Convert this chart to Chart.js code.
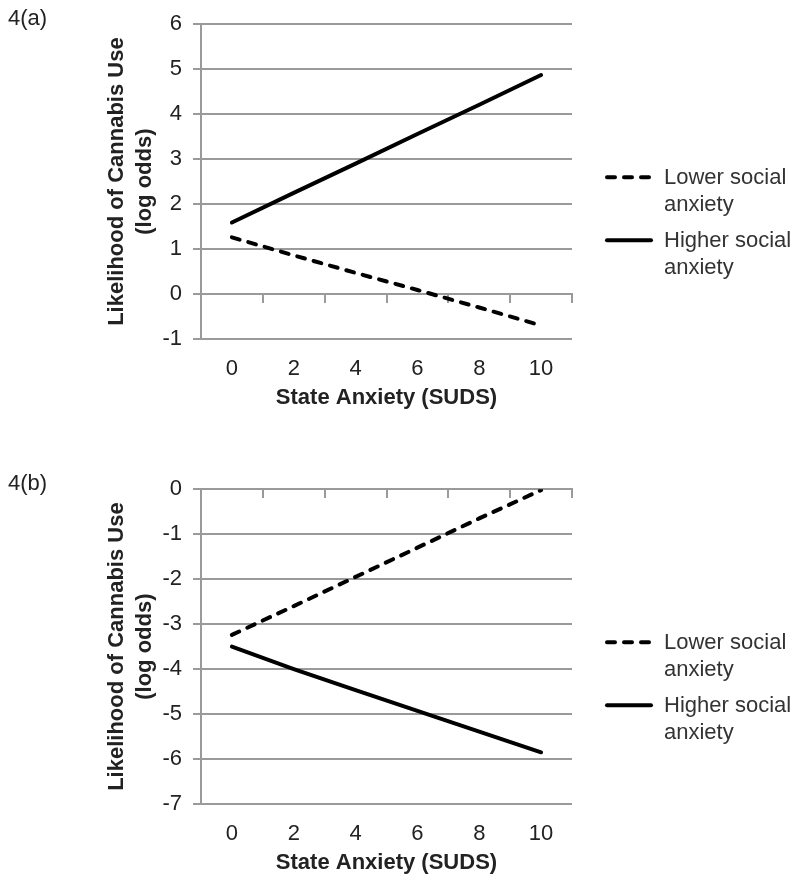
<!DOCTYPE html>
<html>
<head>
<meta charset="utf-8">
<script src="https://cdn.jsdelivr.net/npm/chart.js@4.4.1/dist/chart.umd.min.js"></script>
<style>
    body { margin: 0; background: #fff; }
    .panel { position: absolute; left: 0; width: 800px; height: 420px; }
    .tag { position: absolute; left: 8px; top: 5px; font: 22px 'Liberation Sans', Arial, sans-serif; color: #222; }
</style>
</head>
<body>
<div class="panel" style="top:0">
    <div class="tag">4(a)</div>
    <canvas id="chartA" width="800" height="420"></canvas>
</div>
<div class="panel" style="top:465px">
    <div class="tag">4(b)</div>
    <canvas id="chartB" width="800" height="420"></canvas>
</div>
<script>
// State anxiety (SUDS) categories
const suds = ['0', '2', '4', '6', '8', '10'];

// Panel 4(a) - log odds
const lowerA = [1.26, 0.86, 0.47, 0.09, -0.30, -0.70];
const higherA = [1.59, 2.25, 2.90, 3.56, 4.21, 4.87];

// Panel 4(b) - log odds
const lowerB = [-3.24, -2.60, -1.95, -1.30, -0.65, -0.02];
const higherB = [-3.50, -4.00, -4.47, -4.93, -5.39, -5.85];

const seriesNames = [['Lower social', 'anxiety'], ['Higher social', 'anxiety']];
const yTitle = ['Likelihood of Cannabis Use', '(log odds)'];
const xTitle = 'State Anxiety (SUDS)';

const FONT = "'Liberation Sans', Arial, sans-serif";
const GRID = '#9a9a9a';
const TEXT = '#222';

// legend drawn to the right of the plot, two-line labels
const sideLegend = {
    id: 'sideLegend',
    afterDraw(chart) {
        const ctx = chart.ctx;
        const top = chart.chartArea.top;
        ctx.save();
        chart.data.datasets.forEach((ds, i) => {
            const y = top + 153 + i * 63;
            ctx.beginPath();
            ctx.lineWidth = 4;
            ctx.lineCap = 'round';
            ctx.strokeStyle = '#000';
            ctx.setLineDash(ds.borderDash || []);
            ctx.moveTo(607, y);
            ctx.lineTo(651, y);
            ctx.stroke();
            ctx.setLineDash([]);
            ctx.fillStyle = '#333';
            ctx.font = '22px ' + FONT;
            ctx.textBaseline = 'middle';
            ctx.textAlign = 'left';
            ds.legendLines.forEach((t, k) => ctx.fillText(t, 664, y + 1 + k * 27));
        });
        ctx.restore();
    }
};

function makeChart(id, lower, higher, yMin, yMax) {
    const ctx = document.getElementById(id).getContext('2d');
    return new Chart(ctx, {
        type: 'line',
        data: {
            labels: suds,
            datasets: [{
                label: seriesNames[0].join(' '),
                legendLines: seriesNames[0],
                data: lower,
                borderColor: '#000',
                borderWidth: 4,
                borderDash: [8, 9],
                borderCapStyle: 'round',
                pointRadius: 0,
                tension: 0
            }, {
                label: seriesNames[1].join(' '),
                legendLines: seriesNames[1],
                data: higher,
                borderColor: '#000',
                borderWidth: 4,
                borderCapStyle: 'round',
                pointRadius: 0,
                tension: 0
            }]
        },
        options: {
            responsive: false,
            devicePixelRatio: 1,
            animation: false,
            layout: {
                padding: { top: 19, right: 228, left: 0, bottom: 0 }
            },
            plugins: {
                legend: { display: false },
                tooltip: { enabled: false }
            },
            scales: {
                x: {
                    type: 'category',
                    offset: true,
                    grid: { display: false, drawTicks: false },
                    border: { display: false },
                    ticks: {
                        color: TEXT,
                        font: { family: FONT, size: 22 },
                        padding: 17,
                        maxRotation: 0
                    },
                    title: {
                        display: true,
                        text: xTitle,
                        color: TEXT,
                        font: { family: FONT, size: 22, weight: 'bold' },
                        padding: { top: 0, bottom: 9 }
                    },
                    afterFit(scale) { scale.height = 81; }
                },
                // category axis crossing at zero, tick marks only
                x2: {
                    type: 'category',
                    position: { y: 0 },
                    offset: true,
                    grid: {
                        offset: true,
                        drawOnChartArea: false,
                        tickLength: 8,
                        color: GRID,
                        lineWidth: 2
                    },
                    border: { display: true, color: GRID, width: 2 },
                    ticks: { display: false }
                },
                y: {
                    min: yMin,
                    max: yMax,
                    ticks: {
                        stepSize: 1,
                        color: TEXT,
                        font: { family: FONT, size: 22 },
                        padding: 11
                    },
                    grid: {
                        color: GRID,
                        lineWidth: 2,
                        tickLength: 8
                    },
                    border: { display: true, color: GRID, width: 2 },
                    title: {
                        display: true,
                        text: yTitle,
                        color: TEXT,
                        font: { family: FONT, size: 22, weight: 'bold', lineHeight: 1.27 },
                        padding: { top: 103, bottom: 0 }
                    },
                    afterFit(scale) { scale.width = 201; }
                }
            }
        },
        plugins: [sideLegend]
    });
}

makeChart('chartA', lowerA, higherA, -1, 6);
makeChart('chartB', lowerB, higherB, -7, 0);
</script>
</body>
</html>
